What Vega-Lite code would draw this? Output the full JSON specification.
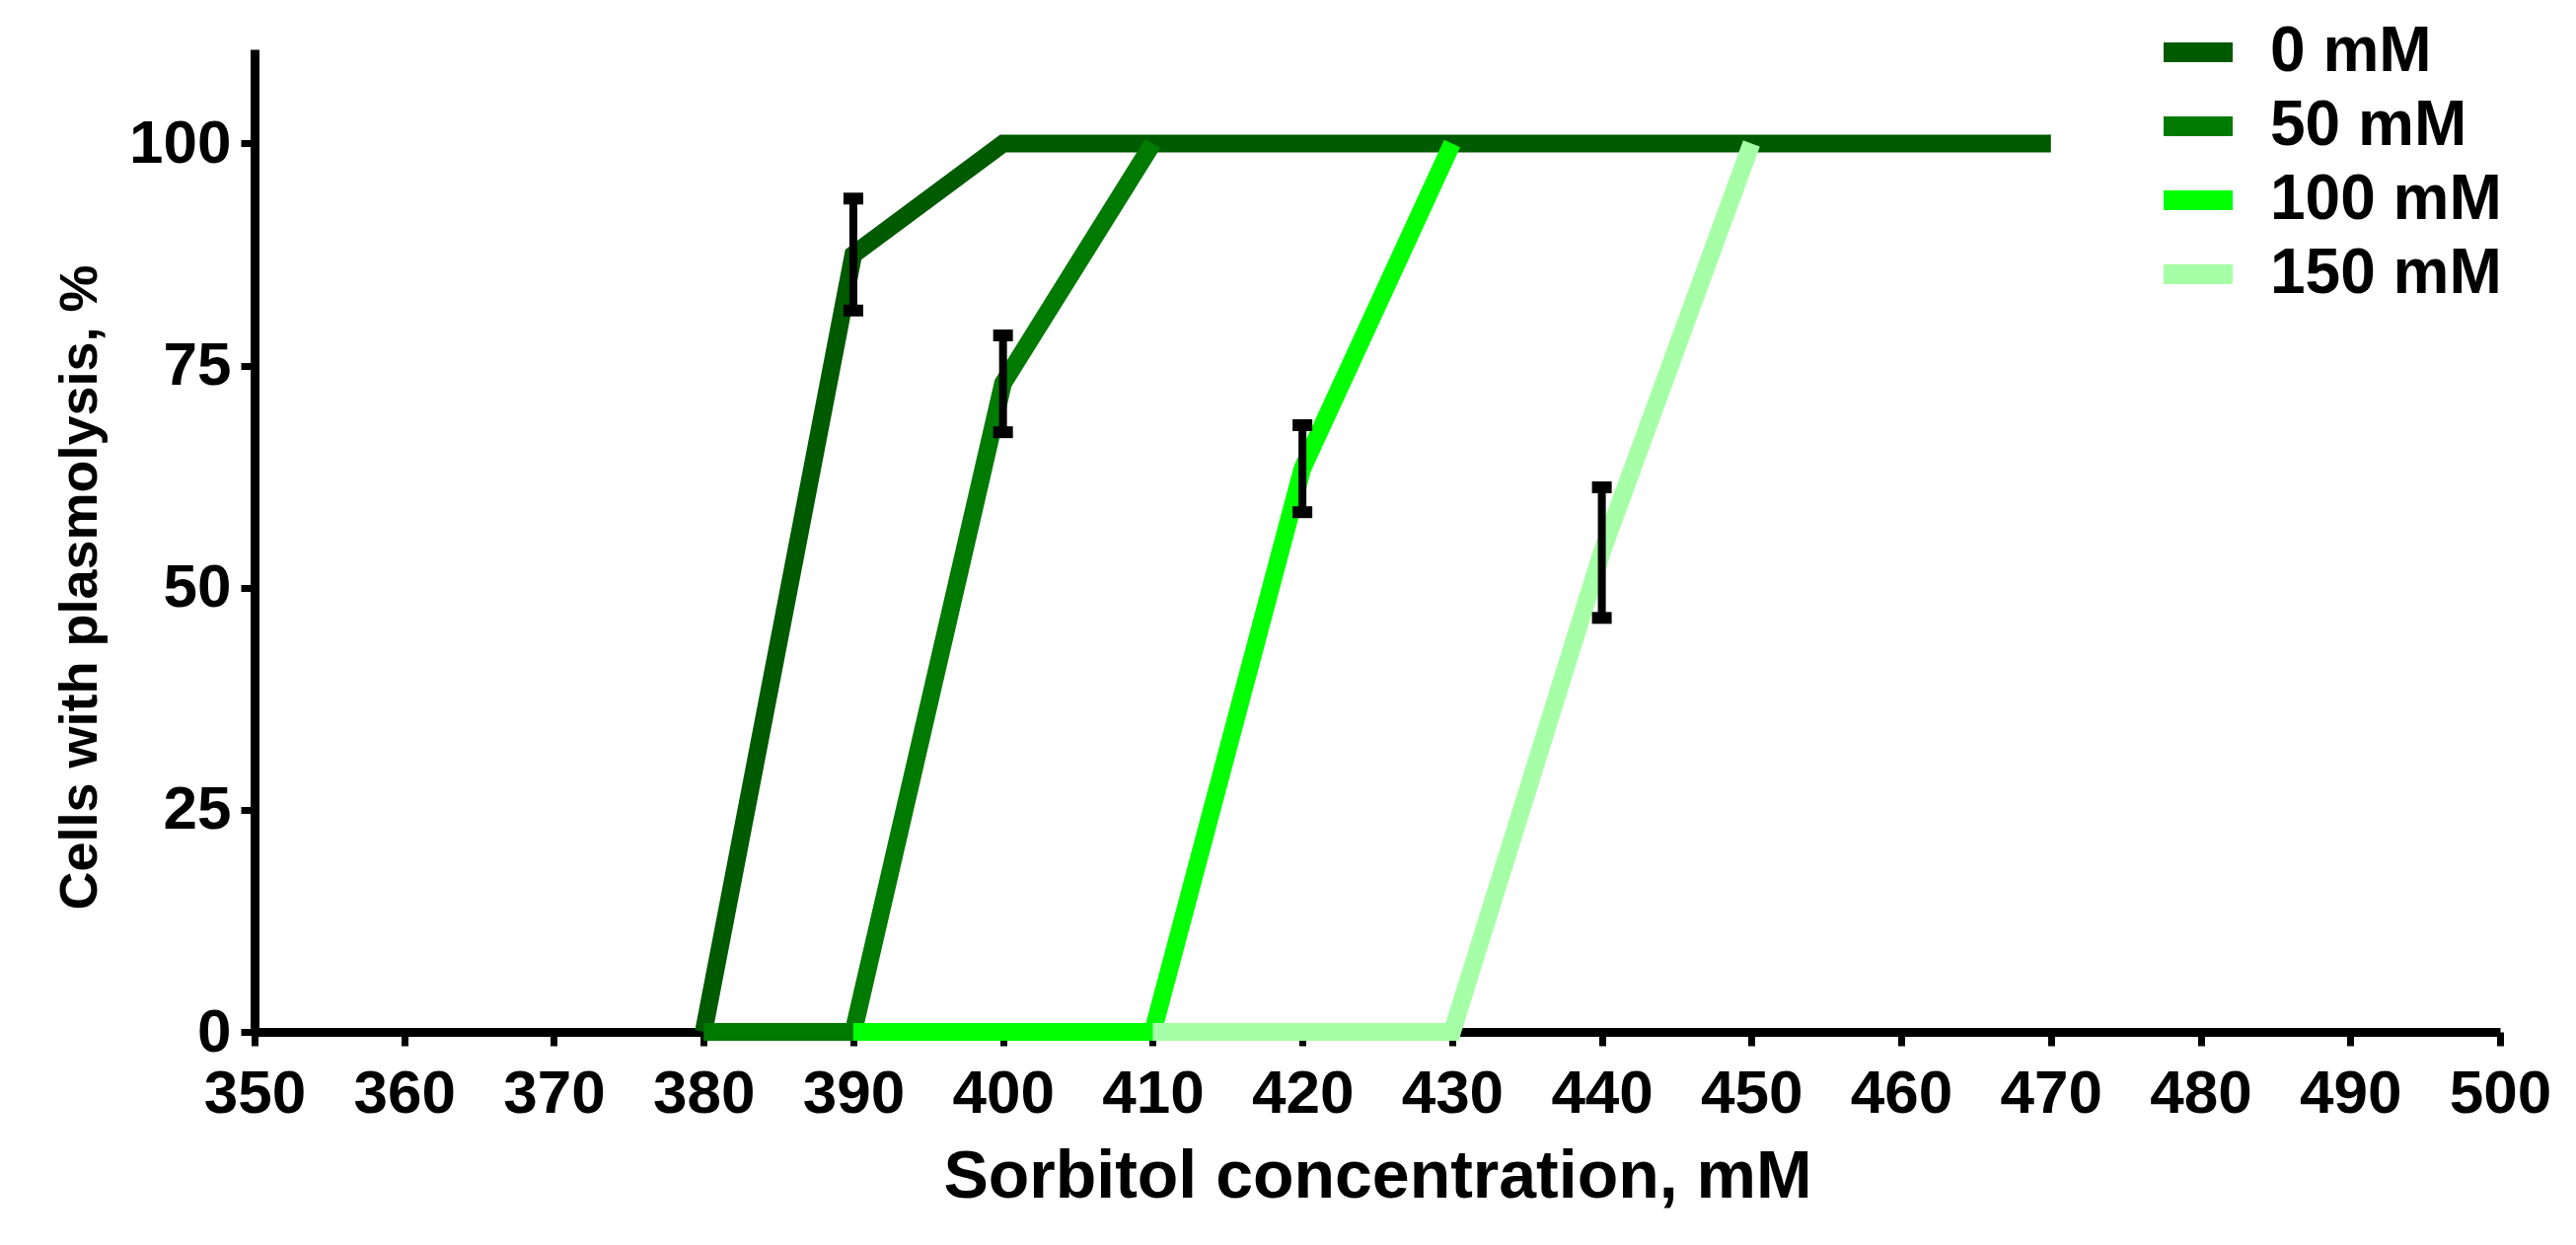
{
  "$schema": "https://vega.github.io/schema/vega-lite/v6.json",
  "autosize": {"type": "none"},
  "padding": {"left": 258, "top": 50, "right": 77, "bottom": 216},
  "width": 2276,
  "height": 996,
  "background": "white",
  "config": {
    "view": {"stroke": null},
    "axis": {
      "grid": false,
      "domainColor": "black",
      "domainWidth": 9,
      "tickColor": "black",
      "tickWidth": 7,
      "tickSize": 14,
      "labelFont": "Liberation Sans",
      "labelFontWeight": "bold",
      "labelFontSize": 62,
      "labelColor": "black",
      "titleFont": "Liberation Sans",
      "titleFontWeight": "bold",
      "titleColor": "black",
      "labelFlush": false
    }
  },
  "datasets": {
    "curves": [
      {"series": "0 mM", "conc": 380, "pct": 0},
      {"series": "0 mM", "conc": 390, "pct": 87.5},
      {"series": "0 mM", "conc": 400, "pct": 100},
      {"series": "0 mM", "conc": 410, "pct": 100},
      {"series": "0 mM", "conc": 420, "pct": 100},
      {"series": "0 mM", "conc": 430, "pct": 100},
      {"series": "0 mM", "conc": 440, "pct": 100},
      {"series": "0 mM", "conc": 450, "pct": 100},
      {"series": "0 mM", "conc": 460, "pct": 100},
      {"series": "0 mM", "conc": 470, "pct": 100},
      {"series": "50 mM", "conc": 380, "pct": 0},
      {"series": "50 mM", "conc": 390, "pct": 0},
      {"series": "50 mM", "conc": 400, "pct": 73},
      {"series": "50 mM", "conc": 410, "pct": 100},
      {"series": "100 mM", "conc": 390, "pct": 0},
      {"series": "100 mM", "conc": 400, "pct": 0},
      {"series": "100 mM", "conc": 410, "pct": 0},
      {"series": "100 mM", "conc": 420, "pct": 63.4},
      {"series": "100 mM", "conc": 430, "pct": 100},
      {"series": "150 mM", "conc": 410, "pct": 0},
      {"series": "150 mM", "conc": 420, "pct": 0},
      {"series": "150 mM", "conc": 430, "pct": 0},
      {"series": "150 mM", "conc": 440, "pct": 54},
      {"series": "150 mM", "conc": 450, "pct": 100}
    ],
    "errs": [
      {"series": "0 mM", "conc": 390, "lo": 81.2, "hi": 93.8},
      {"series": "50 mM", "conc": 400, "lo": 67.5, "hi": 78.4},
      {"series": "100 mM", "conc": 420, "lo": 58.5, "hi": 68.3},
      {"series": "150 mM", "conc": 440, "lo": 46.6, "hi": 61.3}
    ]
  },
  "layer": [
    {
      "data": {"name": "curves"},
      "mark": {"type": "line", "strokeWidth": 18, "strokeJoin": "miter", "strokeCap": "butt", "clip": false},
      "encoding": {
        "x": {
          "field": "conc", "type": "quantitative",
          "scale": {"domain": [350, 500], "nice": false, "zero": false},
          "axis": {"values": [350,360,370,380,390,400,410,420,430,440,450,460,470,480,490,500], "title": "Sorbitol concentration, mM", "titleFontSize": 68, "labelFontSize": 62, "labelPadding": 18, "titlePadding": 20}
        },
        "y": {
          "field": "pct", "type": "quantitative",
          "scale": {"domain": [0, 110.6], "nice": false},
          "axis": {"values": [0, 25, 50, 75, 100], "title": "Cells with plasmolysis, %", "titleFontSize": 54, "titleY": 545, "labelPadding": 10, "titlePadding": 22}
        },
        "color": {
          "field": "series", "type": "nominal",
          "scale": {"domain": ["0 mM", "50 mM", "100 mM", "150 mM"], "range": ["#005a00", "#007a00", "#00ff00", "#a6ffa6"]},
          "legend": {
            "title": null,
            "orient": "none",
            "legendX": 1925,
            "legendY": -32,
            "padding": 0,
            "symbolType": "stroke",
            "symbolStrokeWidth": 20,
            "symbolSize": 4900,
            "clipHeight": 70,
            "labelFont": "Liberation Sans",
            "labelFontWeight": "bold",
            "labelFontSize": 64,
            "labelColor": "black",
            "labelOffset": 28,
            "labelLimit": 600,
            "rowPadding": 5
          }
        },
        "order": {"field": "conc", "type": "quantitative"}
      }
    },
    {
      "data": {"name": "errs"},
      "mark": {"type": "rule", "color": "black", "strokeWidth": 8},
      "encoding": {
        "x": {"field": "conc", "type": "quantitative"},
        "y": {"field": "lo", "type": "quantitative"},
        "y2": {"field": "hi"}
      }
    },
    {
      "data": {"name": "errs"},
      "mark": {"type": "tick", "color": "black", "orient": "horizontal", "thickness": 12, "size": 20, "opacity": 1},
      "encoding": {
        "x": {"field": "conc", "type": "quantitative"},
        "y": {"field": "lo", "type": "quantitative"}
      }
    },
    {
      "data": {"name": "errs"},
      "mark": {"type": "tick", "color": "black", "orient": "horizontal", "thickness": 12, "size": 20, "opacity": 1},
      "encoding": {
        "x": {"field": "conc", "type": "quantitative"},
        "y": {"field": "hi", "type": "quantitative"}
      }
    }
  ]
}
